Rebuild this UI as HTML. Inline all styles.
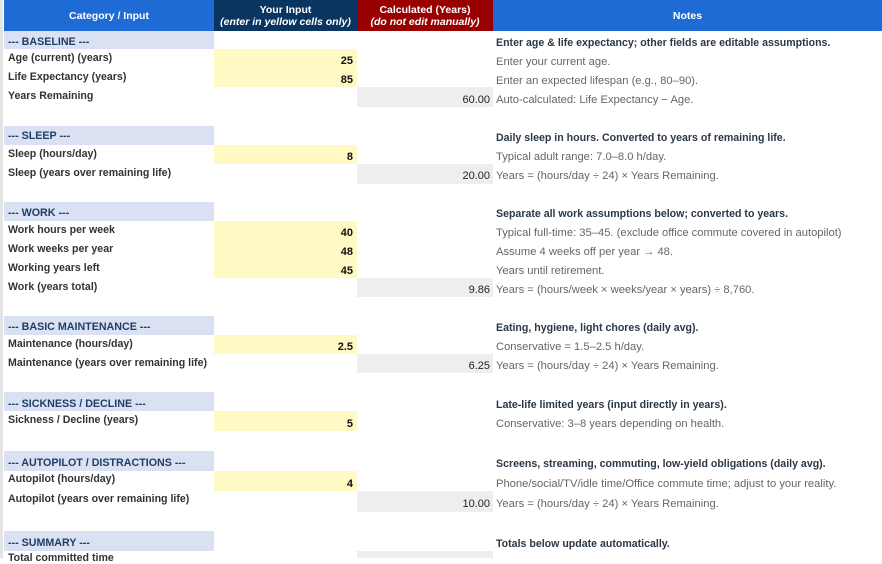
<!DOCTYPE html>
<html><head><meta charset="utf-8"><style>
body{margin:0;width:882px;height:558px;overflow:hidden;background:#fff;position:relative;font-family:"Liberation Sans",Arial,sans-serif;}
div{position:absolute;white-space:nowrap;box-sizing:border-box}
.h{top:0;height:31px;color:#fff;font-weight:bold;font-size:10.5px;text-align:center;display:flex;flex-direction:column;justify-content:center;line-height:12px}
.sec{left:4px;width:210px;background:#d9e1f2}
.st{left:8px;font-size:10.7px;font-weight:bold;color:#1f3f66;margin-top:-1px}
.l{left:8px;font-size:10.6px;font-weight:bold;color:#333;margin-top:-1px}
.y{left:214px;width:143px;background:#fff9c4}
.g{left:357px;width:136px;background:#eeeeee}
.ni{left:214px;width:139px;text-align:right;font-size:11px;font-weight:bold;color:#111}
.nc{left:357px;width:133px;text-align:right;font-size:11px;color:#222}
.nb{left:496px;font-size:10.6px;font-weight:bold;color:#2b3847}
.n{left:496px;font-size:11.2px;color:#666}
</style></head><body>
<div style="left:0;top:0;width:3px;height:558px;background:#e4e4e4"></div>
<div class="h" style="left:4px;width:210px;background:#1f6bd5">Category / Input</div>
<div class="h" style="left:214px;width:143px;background:#0a3560">Your Input<i>(enter in yellow cells only)</i></div>
<div class="h" style="left:357px;width:136px;background:#990000">Calculated (Years)<i>(do not edit manually)</i></div>
<div class="h" style="left:493px;width:389px;background:#1f6bd5">Notes</div>

<div class="sec" style="top:31px;height:18px"></div>
<div class="y" style="top:49px;height:38px"></div>
<div class="g" style="top:87px;height:20px"></div>
<div class="sec" style="top:126px;height:19px"></div>
<div class="y" style="top:145px;height:19px"></div>
<div class="g" style="top:164px;height:20px"></div>
<div class="sec" style="top:202px;height:19px"></div>
<div class="y" style="top:221px;height:57px"></div>
<div class="g" style="top:278px;height:19px"></div>
<div class="sec" style="top:316px;height:19px"></div>
<div class="y" style="top:335px;height:19px"></div>
<div class="g" style="top:354px;height:19px"></div>
<div class="sec" style="top:392px;height:19px"></div>
<div class="y" style="top:411px;height:20px"></div>
<div class="sec" style="top:451px;height:20px"></div>
<div class="y" style="top:471px;height:20px"></div>
<div class="g" style="top:491px;height:21px"></div>
<div class="sec" style="top:531px;height:20px"></div>
<div class="g" style="top:551px;height:7px"></div>

<div class="st" style="top:37px">--- BASELINE ---</div>
<div class="nb" style="top:37px">Enter age &amp; life expectancy; other fields are editable assumptions.</div>
<div class="l" style="top:53px">Age (current) (years)</div>
<div class="ni" style="top:55px">25</div>
<div class="n" style="top:56px">Enter your current age.</div>
<div class="l" style="top:72px">Life Expectancy (years)</div>
<div class="ni" style="top:74px">85</div>
<div class="n" style="top:75px">Enter an expected lifespan (e.g., 80–90).</div>
<div class="l" style="top:91px">Years Remaining</div>
<div class="nc" style="top:94px">60.00</div>
<div class="n" style="top:94px">Auto-calculated: Life Expectancy − Age.</div>

<div class="st" style="top:131px">--- SLEEP ---</div>
<div class="nb" style="top:132px">Daily sleep in hours. Converted to years of remaining life.</div>
<div class="l" style="top:149px">Sleep (hours/day)</div>
<div class="ni" style="top:151px">8</div>
<div class="n" style="top:151px">Typical adult range: 7.0–8.0 h/day.</div>
<div class="l" style="top:168px">Sleep (years over remaining life)</div>
<div class="nc" style="top:170px">20.00</div>
<div class="n" style="top:170px">Years = (hours/day ÷ 24) × Years Remaining.</div>

<div class="st" style="top:208px">--- WORK ---</div>
<div class="nb" style="top:208px">Separate all work assumptions below; converted to years.</div>
<div class="l" style="top:225px">Work hours per week</div>
<div class="ni" style="top:227px">40</div>
<div class="n" style="top:227px">Typical full-time: 35–45. (exclude office commute covered in autopilot)</div>
<div class="l" style="top:244px">Work weeks per year</div>
<div class="ni" style="top:246px">48</div>
<div class="n" style="top:246px">Assume 4 weeks off per year → 48.</div>
<div class="l" style="top:263px">Working years left</div>
<div class="ni" style="top:265px">45</div>
<div class="n" style="top:265px">Years until retirement.</div>
<div class="l" style="top:282px">Work (years total)</div>
<div class="nc" style="top:284px">9.86</div>
<div class="n" style="top:284px">Years = (hours/week × weeks/year × years) ÷ 8,760.</div>

<div class="st" style="top:322px">--- BASIC MAINTENANCE ---</div>
<div class="nb" style="top:322px">Eating, hygiene, light chores (daily avg).</div>
<div class="l" style="top:339px">Maintenance (hours/day)</div>
<div class="ni" style="top:341px">2.5</div>
<div class="n" style="top:341px">Conservative = 1.5–2.5 h/day.</div>
<div class="l" style="top:358px">Maintenance (years over remaining life)</div>
<div class="nc" style="top:360px">6.25</div>
<div class="n" style="top:360px">Years = (hours/day ÷ 24) × Years Remaining.</div>

<div class="st" style="top:399px">--- SICKNESS / DECLINE ---</div>
<div class="nb" style="top:399px">Late-life limited years (input directly in years).</div>
<div class="l" style="top:415px">Sickness / Decline (years)</div>
<div class="ni" style="top:418px">5</div>
<div class="n" style="top:418px">Conservative: 3–8 years depending on health.</div>

<div class="st" style="top:458px">--- AUTOPILOT / DISTRACTIONS ---</div>
<div class="nb" style="top:458px">Screens, streaming, commuting, low-yield obligations (daily avg).</div>
<div class="l" style="top:474px">Autopilot (hours/day)</div>
<div class="ni" style="top:478px">4</div>
<div class="n" style="top:478px">Phone/social/TV/idle time/Office commute time; adjust to your reality.</div>
<div class="l" style="top:494px">Autopilot (years over remaining life)</div>
<div class="nc" style="top:498px">10.00</div>
<div class="n" style="top:498px">Years = (hours/day ÷ 24) × Years Remaining.</div>

<div class="st" style="top:538px">--- SUMMARY ---</div>
<div class="nb" style="top:538px">Totals below update automatically.</div>
<div class="l" style="top:553px">Total committed time</div>
</body></html>
